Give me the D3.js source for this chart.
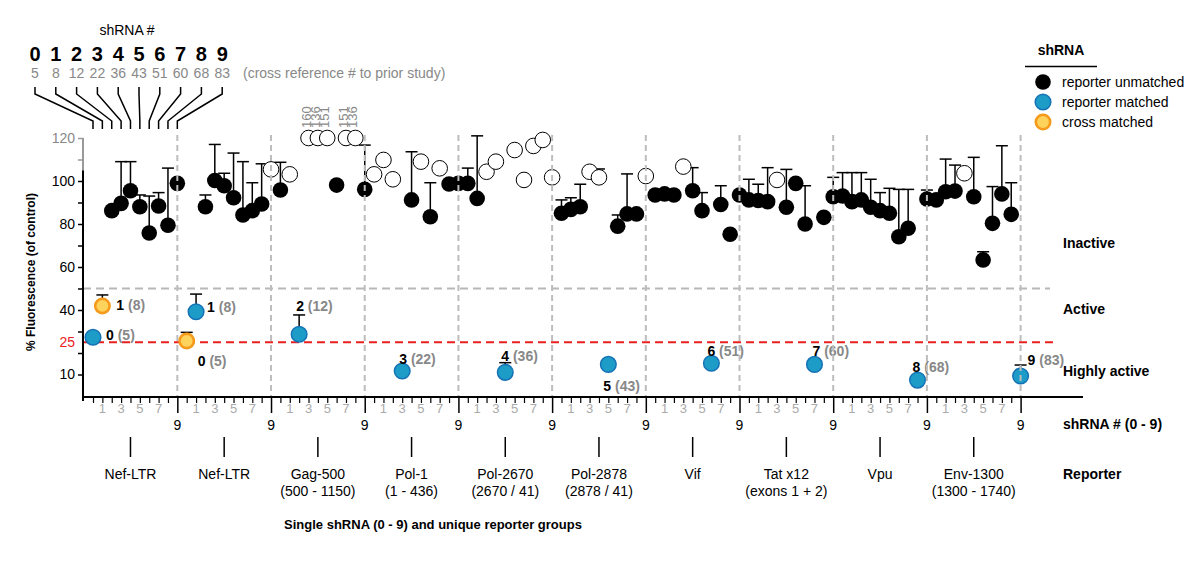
<!DOCTYPE html>
<html><head><meta charset="utf-8">
<script src="https://cdn.jsdelivr.net/npm/d3@7"></script>
<style>body{margin:0;background:#fff} svg{display:block;font-family:"Liberation Sans",Arial,Helvetica,sans-serif}</style>
</head><body><svg id="c" width="1200" height="562"></svg>
<script>
// ---------- data ----------
const reporters = ["Nef-LTR","Nef-LTR","Gag-500","Pol-1","Pol-2670","Pol-2878","Vif","Tat x12","Vpu","Env-1300"];
const reporterSub = ["","","(500 - 1150)","(1 - 436)","(2670 / 41)","(2878 / 41)","","(exons 1 + 2)","","(1300 - 1740)"];
const shrnaIds = [0,1,2,3,4,5,6,7,8,9];
const crossRef = [5,8,12,22,36,43,51,60,68,83];
const posTickLabels = ["","1","","3","","5","","7","",""];
const yTickLabels = [10,40,60,80,100,120];
// kind per shRNA position: u = reporter unmatched, m = reporter matched, c = cross matched, o = open circle
const kinds = ["mcuuuuuuuu","cmuuuuuuuo","uomooouoou","ooomuououu","uuoomooooo",
               "uuuoomuuuo","uuuouumuuu","uuuouuumuu","uuuuuuuumu","uuuouuuuum"];
const values = [
  [27.3,41.9,86.2,89.6,95.5,88,75.8,88.4,79.4,98.9],
  [25.6,39.2,88,100.2,97.8,92.2,84.2,86.2,89.3,105.4],
  [95.8,103.1,28.7,160,136,151,98.1,151,136,96.1],
  [103.1,109.8,100.8,11.6,91.2,109,83.4,105.9,98.6,98.9],
  [98.9,91.9,104.3,109,11,114.4,100.5,116.3,119.1,101.7],
  [85,86.8,88,104.3,101.7,14.7,79,84.7,84.7,102.3],
  [93.5,94,93.5,106.7,95.5,86.2,15.2,89.1,75.2,93.5],
  [91.2,90.9,90.4,100.5,87.8,98.9,80,14.7,83.1,92.7],
  [93,90.4,91.2,87.8,86.2,85,74.1,78,7.4,91.6],
  [91.2,95,95.3,103.6,92.7,63.3,80.3,94,84.5,9.3]
];
const errTop = [
  [null,47,null,109,109,93.5,93,94.6,106,null],
  [29.6,47.4,93.5,117,103.6,113,109,99.2,108,null],
  [108.7,null,37.7,null,null,null,null,null,null,116.7],
  [null,null,null,null,113.6,null,99.2,null,null,null],
  [106,121,null,null,15.5,null,null,null,null,null],
  [91.2,92.2,98.5,null,105.6,null,84.2,103.3,null,null],
  [null,null,null,null,106.2,94.6,null,97.8,null,null],
  [100.8,98.5,106.2,null,105.4,null,97.8,null,null,101.7],
  [103.9,103.9,103.9,100.8,94.6,96.6,96.1,96.1,null,95.8],
  [null,110.2,107.4,null,111,67.1,97.4,116.4,99.2,14.4]
];
const zones = ["Inactive","Active","Highly active"];
const legendItems = [{k:"u", label:"reporter unmatched"},{k:"m", label:"reporter matched"},{k:"c", label:"cross matched"}];

// ---------- layout (not data) ----------
const labelOffsets = {"0-0":[13,-2],"0-1":[14,-1],"1-0":[11,20],"1-1":[11,-5],"2-2":[-3,-28],"3-3":[-3,-12],
  "4-4":[-4,-16],"5-5":[-5,22],"6-6":[-4,-12],"7-7":[-2,-13],"8-8":[-5,-13],"9-9":[7,-16]};
const zoneY = [248,314,376];

const svg = d3.select("#c");
const FONT = 14;
const x = d3.scaleLinear().domain([0, 99]).range([93, 1020.6]);
const y = d3.scaleLinear().domain([0, 120]).range([396, 138]);
const xi = (g,p) => x(g*10+p);
const yc = v => y(Math.min(v,120));

const pts = [];
values.forEach((row,g) => row.forEach((v,p) => pts.push({g,p,v,k:kinds[g][p],err:errTop[g][p]})));

// horizontal reference lines
svg.append("line").attr("x1",83).attr("x2",1050).attr("y1",y(50)).attr("y2",y(50))
  .attr("stroke","#b8b8b8").attr("stroke-width",2).attr("stroke-dasharray","8,5");
svg.append("line").attr("x1",83).attr("x2",1053).attr("y1",y(25)).attr("y2",y(25))
  .attr("stroke","#e8201f").attr("stroke-width",2).attr("stroke-dasharray","8,5");

// error bars
const eb = svg.append("g").attr("stroke","#000").attr("stroke-width",1.5);
pts.filter(d=>d.err!=null).forEach(d=>{
  const cx = xi(d.g,d.p);
  eb.append("line").attr("x1",cx).attr("x2",cx).attr("y1",yc(d.v)).attr("y2",y(d.err));
  eb.append("line").attr("x1",cx-6).attr("x2",cx+6).attr("y1",y(d.err)).attr("y2",y(d.err));
});

// points
function drawMark(sel, k){
  if(k==="u") sel.attr("r",7.8).attr("fill","#000");
  else if(k==="o") sel.attr("r",7.8).attr("fill","#fff").attr("stroke","#000").attr("stroke-width",1);
  else if(k==="m") sel.attr("r",7.8).attr("fill","#1e9cc8").attr("stroke","#1573b5").attr("stroke-width",1.5);
  else if(k==="c") sel.attr("r",7.2).attr("fill","#fdd35b").attr("stroke","#f59a1b").attr("stroke-width",2.6);
}
pts.forEach(d=>{
  drawMark(svg.append("circle").attr("cx",xi(d.g,d.p)).attr("cy",yc(d.v)), d.k);
});

// off-scale labels (actual value of points above the axis range)
pts.filter(d=>d.v>120).forEach(d=>{
  const cx = xi(d.g,d.p), cy = y(120)-10;
  svg.append("text").attr("transform",`translate(${cx+2},${cy}) rotate(-90)`)
    .attr("font-size",13).attr("fill","#888").text(d.v);
});

// matched / cross labels
pts.filter(d=>d.k==="m"||d.k==="c").forEach(d=>{
  const off = labelOffsets[d.g+"-"+d.p] || [10,-10];
  const t = svg.append("text").attr("x",xi(d.g,d.p)+off[0]).attr("y",yc(d.v)+off[1]+5)
    .attr("font-size",FONT).attr("font-weight","bold");
  t.append("tspan").attr("fill","#000").text(shrnaIds[d.p]+" ");
  t.append("tspan").attr("fill","#888").text("("+crossRef[d.p]+")");
});

// vertical group separators (on top of points)
for(let g=0; g<10; g++){
  svg.append("line").attr("x1",xi(g,9)).attr("x2",xi(g,9)).attr("y1",y(120)-3).attr("y2",396)
    .attr("stroke","#bdbdbd").attr("stroke-width",2).attr("stroke-dasharray","6,4");
}

// y axis
const yAxis = d3.axisLeft(y).tickValues(d3.range(10,121,10)).tickSize(5).tickPadding(3)
  .tickFormat(d => yTickLabels.includes(d) ? d : "");
const ga = svg.append("g").attr("transform","translate(83,0)").call(yAxis);
ga.select(".domain").remove();
ga.selectAll("text").attr("font-size",FONT).attr("font-family","Liberation Sans, Arial, sans-serif").attr("fill","#000");
ga.selectAll(".tick line").attr("stroke-width",1.5);
ga.selectAll(".tick").filter(d=>d>105).selectAll("line").attr("stroke","#999");
ga.selectAll(".tick").filter(d=>d===120).selectAll("text").attr("fill","#888");
svg.append("line").attr("x1",83).attr("x2",83).attr("y1",y(105)).attr("y2",401).attr("stroke","#000").attr("stroke-width",2);
svg.append("line").attr("x1",83).attr("x2",83).attr("y1",y(120)).attr("y2",y(105)).attr("stroke","#999").attr("stroke-width",2);
svg.append("text").attr("x",75).attr("y",y(25)+5).attr("text-anchor","end").attr("font-size",FONT).attr("fill","#e8201f").text("25");

// y title
svg.append("text").attr("transform",`translate(35,272) rotate(-90)`).attr("text-anchor","middle")
  .attr("font-size",12).attr("font-weight","bold").text("% Fluorescence (of control)");

// x axis
const xAxis = d3.axisBottom(x).tickValues(d3.range(0,100)).tickSize(6).tickFormat("");
const gx = svg.append("g").attr("transform","translate(0,397)").call(xAxis);
gx.select(".domain").remove();
gx.selectAll(".tick line").attr("stroke-width",1.2);
gx.selectAll(".tick").filter(d=>d%10===9).select("line").attr("y2",16).attr("stroke-width",1.5);
svg.append("line").attr("x1",82).attr("x2",1083).attr("y1",397).attr("y2",397).attr("stroke","#000").attr("stroke-width",2);
for(let g=0; g<10; g++){
  posTickLabels.forEach((lab,p)=>{
    if(lab) svg.append("text").attr("x",xi(g,p)).attr("y",413).attr("text-anchor","middle")
      .attr("font-size",13).attr("fill","#aaa").text(lab);
  });
  svg.append("text").attr("x",xi(g,9)).attr("y",430).attr("text-anchor","middle").attr("font-size",FONT).text(shrnaIds[9]);
  const cx = xi(g,4);
  svg.append("line").attr("x1",cx).attr("x2",cx).attr("y1",437).attr("y2",457).attr("stroke","#000").attr("stroke-width",1.5);
  svg.append("text").attr("x",cx).attr("y",479).attr("text-anchor","middle").attr("font-size",FONT).text(reporters[g]);
  if(reporterSub[g]) svg.append("text").attr("x",cx).attr("y",496).attr("text-anchor","middle").attr("font-size",FONT).text(reporterSub[g]);
}
svg.append("text").attr("x",1063).attr("y",429).attr("font-size",FONT).attr("font-weight","bold").text("shRNA # (0 - 9)");
svg.append("text").attr("x",1063).attr("y",479).attr("font-size",FONT).attr("font-weight","bold").text("Reporter");
svg.append("text").attr("x",433).attr("y",529).attr("text-anchor","middle").attr("font-size",13).attr("font-weight","bold")
  .text("Single shRNA (0 - 9) and unique reporter groups");

// zone labels
zones.forEach((z,i)=>{
  svg.append("text").attr("x",1063).attr("y",zoneY[i]).attr("font-size",FONT).attr("font-weight","bold").text(z);
});

// header
const hx = k => 35 + k*20.8;
svg.append("text").attr("x",127).attr("y",35).attr("text-anchor","middle").attr("font-size",FONT).text("shRNA #");
shrnaIds.forEach(k=>{
  svg.append("text").attr("x",hx(k)).attr("y",60.5).attr("text-anchor","middle").attr("font-size",20).attr("font-weight","bold").text(k);
  svg.append("text").attr("x",hx(k)).attr("y",78).attr("text-anchor","middle").attr("font-size",FONT).attr("fill","#888").text(crossRef[k]);
  svg.append("path").attr("d",`M${hx(k)},87V94L${xi(0,k)},121V129`).attr("fill","none").attr("stroke","#000").attr("stroke-width",1.5);
});
svg.append("text").attr("x",243).attr("y",78).attr("font-size",FONT).attr("fill","#888").text("(cross reference # to prior study)");

// legend
svg.append("text").attr("x",1061).attr("y",55).attr("text-anchor","middle").attr("font-size",FONT).attr("font-weight","bold").text("shRNA");
svg.append("line").attr("x1",1025).attr("x2",1097).attr("y1",66.5).attr("y2",66.5).attr("stroke","#000").attr("stroke-width",1.5);
legendItems.forEach((it,i)=>{
  const cy = 82 + i*20;
  drawMark(svg.append("circle").attr("cx",1043).attr("cy",cy), it.k);
  svg.append("text").attr("x",1062).attr("y",cy+5).attr("font-size",FONT).text(it.label);
});
</script></body></html>
